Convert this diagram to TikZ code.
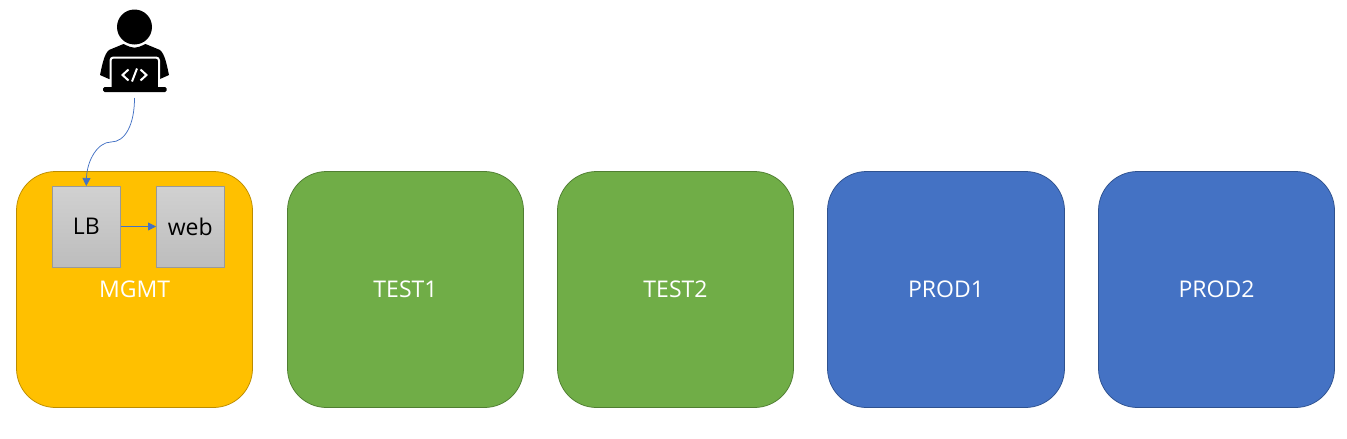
\documentclass[tikz,border=0pt]{standalone}
\usepackage{fontspec}
\setmainfont{Open Sans}
\usetikzlibrary{positioning, arrows.meta}
\definecolor{mgmtfill}{HTML}{FFC000}
\definecolor{mgmtline}{HTML}{BC8C00}
\definecolor{testfill}{HTML}{70AD47}
\definecolor{testline}{HTML}{507E32}
\definecolor{prodfill}{HTML}{4472C4}
\definecolor{prodline}{HTML}{2F528F}
\tikzset{
  envbox/.style={draw, rounded corners=39pt, minimum width=236pt, minimum height=236pt, outer sep=0pt, line width=0.75pt, text=white, font=\fontsize{23}{27}\selectfont},
  srvbox/.style={draw=gray!80, top color=black!18, bottom color=black!26, minimum width=68.5pt, minimum height=81pt, outer sep=0pt, line width=0.75pt, font=\fontsize{23}{27}\selectfont},
  link/.style={draw=prodfill, line width=0.75pt}
}
\begin{document}
\begin{tikzpicture}[x=1pt, y=-1pt, >={Triangle[length=8pt,width=8pt]}]
  \useasboundingbox (0,0) rectangle (1347,439);

  % Umgebungen
  \node[envbox, fill=mgmtfill, draw=mgmtline] (mgmt) at (134.5,289.5) {MGMT};
  \node[envbox, fill=testfill, draw=testline, right=35pt of mgmt] (test1) {TEST1};
  \node[envbox, fill=testfill, draw=testline, right=34pt of test1] (test2) {TEST2};
  \node[envbox, fill=prodfill, draw=prodline, right=34pt of test2, minimum width=237pt] (prod1) {PROD1};
  \node[envbox, fill=prodfill, draw=prodline, right=34pt of prod1] (prod2) {PROD2};

  % Server in MGMT
  \node[srvbox] (lb) at (86.25,226.5) {LB};
  \node[srvbox, right=35.5pt of lb] (web) {web};

  % Entwickler
  \fill (134.5,27) circle (17.5);
  \fill (123.5,44) .. controls (134,49) and (135,49) .. (145.5,44)
    -- (160,50) .. controls (165,54) and (167,66) .. (169,75)
    -- (160,79) -- (109,79) -- (100,75)
    .. controls (102,66) and (104,54) .. (109,50) -- cycle;
  \draw[white, line width=2pt, fill=black, rounded corners=3pt] (110.5,90) -- (110.5,57.5) -- (159,57.5) -- (159,90);
  \fill[rounded corners=1.5pt] (103,87) rectangle (166.5,92);
  \draw[white, line width=2pt] (128.5,69.5) -- (122.5,75) -- (128.5,80.5)
    (140.5,69.5) -- (146.5,75) -- (140.5,80.5)
    (137,68.5) -- (132,81.5);
  \coordinate (dev) at (134.5,98);

  % Verbindungen
  \draw[link, ->] (dev) .. controls (134.5,125) and (125,142) .. (111,142)
    .. controls (98,142) and (87,160) .. (lb.north);
  \draw[link, ->] (lb) -- (web);
\end{tikzpicture}
\end{document}
